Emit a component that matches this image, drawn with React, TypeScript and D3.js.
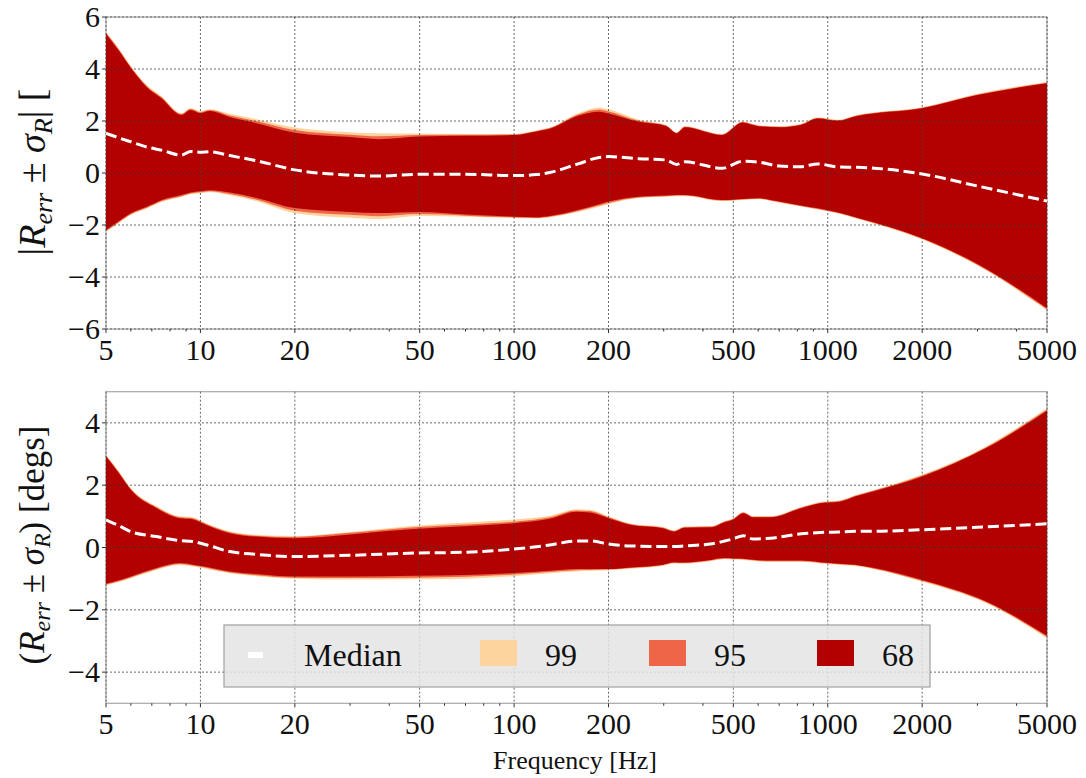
import React from "react";
import * as d3 from "d3";

// ---------- data (top panel: magnitude) ----------
const freqMag = [5, 5.5, 6, 6.75, 7.5, 8.7, 9.3, 10, 10.7, 12.4, 15, 20, 30, 37, 50, 70, 100, 118, 130, 160, 187, 200, 250, 305, 330, 350, 460, 535, 600, 700, 820, 930, 1080, 1240, 2000, 3000, 5000];
const magUpper68 = [5.35, 4.7, 4.04, 3.3, 2.88, 2.23, 2.42, 2.3, 2.38, 2.15, 1.92, 1.55, 1.38, 1.3, 1.4, 1.43, 1.46, 1.6, 1.7, 2.2, 2.36, 2.29, 1.97, 1.81, 1.53, 1.76, 1.46, 1.94, 1.8, 1.76, 1.85, 2.1, 2.01, 2.19, 2.49, 3.0, 3.45];
const magUpper95 = [5.39, 4.74, 4.08, 3.34, 2.92, 2.27, 2.46, 2.34, 2.42, 2.21, 2.0, 1.65, 1.47, 1.41, 1.46, 1.47, 1.48, 1.62, 1.73, 2.25, 2.44, 2.37, 2.01, 1.83, 1.55, 1.78, 1.48, 1.96, 1.82, 1.78, 1.87, 2.12, 2.03, 2.21, 2.51, 3.02, 3.47];
const magUpper99 = [5.42, 4.78, 4.12, 3.38, 2.96, 2.3, 2.5, 2.38, 2.45, 2.28, 2.08, 1.75, 1.57, 1.53, 1.52, 1.5, 1.5, 1.64, 1.75, 2.3, 2.52, 2.45, 2.05, 1.85, 1.56, 1.8, 1.5, 1.98, 1.84, 1.8, 1.89, 2.14, 2.05, 2.23, 2.53, 3.05, 3.5];
const magLower68 = [-2.19, -1.85, -1.55, -1.3, -1.05, -0.85, -0.75, -0.7, -0.66, -0.75, -0.95, -1.35, -1.5, -1.54, -1.5, -1.6, -1.68, -1.7, -1.65, -1.42, -1.2, -1.1, -0.91, -0.87, -0.85, -0.85, -1.04, -1.0, -0.97, -1.1, -1.25, -1.36, -1.52, -1.72, -2.51, -3.5, -5.2];
const magLower95 = [-2.23, -1.89, -1.59, -1.34, -1.09, -0.89, -0.79, -0.74, -0.7, -0.81, -1.02, -1.45, -1.61, -1.66, -1.58, -1.64, -1.71, -1.73, -1.68, -1.46, -1.25, -1.15, -0.94, -0.89, -0.87, -0.87, -1.06, -1.02, -0.99, -1.12, -1.27, -1.38, -1.54, -1.74, -2.53, -3.53, -5.24];
const magLower99 = [-2.26, -1.92, -1.62, -1.37, -1.12, -0.92, -0.82, -0.78, -0.74, -0.86, -1.08, -1.55, -1.72, -1.77, -1.65, -1.68, -1.73, -1.75, -1.7, -1.5, -1.3, -1.2, -0.96, -0.91, -0.89, -0.89, -1.08, -1.04, -1.01, -1.14, -1.29, -1.4, -1.56, -1.76, -2.56, -3.56, -5.28];
const magMedian = [1.53, 1.35, 1.2, 1.0, 0.88, 0.69, 0.83, 0.8, 0.82, 0.67, 0.48, 0.12, -0.08, -0.12, -0.05, -0.05, -0.1, -0.06, 0.02, 0.35, 0.6, 0.63, 0.55, 0.5, 0.33, 0.43, 0.18, 0.45, 0.42, 0.27, 0.24, 0.35, 0.23, 0.22, -0.04, -0.5, -1.08];

// ---------- data (bottom panel: phase) ----------
const freqPhase = [5, 5.5, 6, 7.25, 8.6, 9.45, 10.4, 12.4, 15, 20, 30, 48, 70, 100, 130, 158, 175, 200, 235, 298, 324, 348, 428, 466, 500, 538, 578, 657, 823, 945, 1090, 1222, 1395, 2000, 3200, 5000];
const phaseUpper68 = [2.92, 2.38, 1.85, 1.26, 0.94, 0.91, 0.73, 0.46, 0.35, 0.3, 0.42, 0.59, 0.68, 0.78, 0.92, 1.15, 1.12, 0.94, 0.73, 0.62, 0.51, 0.63, 0.65, 0.8, 0.9, 1.1, 0.97, 0.97, 1.26, 1.42, 1.47, 1.64, 1.8, 2.28, 3.19, 4.39];
const phaseUpper95 = [2.95, 2.41, 1.88, 1.29, 0.97, 0.94, 0.76, 0.49, 0.38, 0.34, 0.47, 0.65, 0.74, 0.83, 0.97, 1.19, 1.17, 0.97, 0.75, 0.64, 0.53, 0.65, 0.67, 0.82, 0.92, 1.12, 0.99, 0.99, 1.28, 1.44, 1.49, 1.66, 1.82, 2.31, 3.22, 4.43];
const phaseUpper99 = [2.98, 2.44, 1.91, 1.32, 1.0, 0.97, 0.79, 0.52, 0.41, 0.37, 0.5, 0.7, 0.8, 0.9, 1.02, 1.23, 1.21, 1.0, 0.77, 0.66, 0.55, 0.67, 0.69, 0.84, 0.94, 1.14, 1.01, 1.01, 1.3, 1.46, 1.51, 1.68, 1.84, 2.34, 3.25, 4.47];
const phaseLower68 = [-1.16, -1.05, -0.93, -0.66, -0.5, -0.55, -0.62, -0.77, -0.85, -0.93, -0.93, -0.91, -0.88, -0.82, -0.75, -0.69, -0.69, -0.69, -0.64, -0.55, -0.47, -0.48, -0.39, -0.34, -0.35, -0.36, -0.39, -0.42, -0.42, -0.47, -0.52, -0.55, -0.65, -1.04, -1.73, -2.83];
const phaseLower95 = [-1.19, -1.08, -0.96, -0.69, -0.53, -0.58, -0.65, -0.8, -0.89, -0.97, -0.98, -0.97, -0.94, -0.87, -0.79, -0.73, -0.72, -0.71, -0.66, -0.57, -0.49, -0.5, -0.41, -0.36, -0.37, -0.38, -0.41, -0.44, -0.44, -0.49, -0.54, -0.57, -0.67, -1.07, -1.76, -2.87];
const phaseLower99 = [-1.22, -1.11, -0.99, -0.72, -0.56, -0.61, -0.68, -0.83, -0.92, -1.0, -1.03, -1.02, -1.0, -0.92, -0.83, -0.77, -0.75, -0.73, -0.68, -0.59, -0.51, -0.52, -0.43, -0.38, -0.39, -0.4, -0.43, -0.46, -0.46, -0.51, -0.56, -0.59, -0.69, -1.1, -1.79, -2.91];
const phaseMedian = [0.89, 0.7, 0.51, 0.35, 0.22, 0.19, 0.09, -0.13, -0.22, -0.29, -0.25, -0.18, -0.15, -0.05, 0.08, 0.21, 0.21, 0.11, 0.05, 0.03, 0.03, 0.05, 0.12, 0.2, 0.28, 0.38, 0.27, 0.3, 0.44, 0.48, 0.5, 0.52, 0.52, 0.57, 0.66, 0.76];

// ---------- ticks / labels ----------
const xMajorTicks = [5, 10, 20, 50, 100, 200, 500, 1000, 2000, 5000];
const xMinorTicks = [6, 7, 8, 9, 30, 40, 60, 70, 80, 90, 300, 400, 600, 700, 800, 900, 3000, 4000];
const magYTicks = [-6, -4, -2, 0, 2, 4, 6];
const phaseYTicks = [-4, -2, 0, 2, 4];
const legendLabels = ["Median", "99", "95", "68"];

const COL99 = "#fdd49e";
const COL95 = "#ef6548";
const COL68 = "#b30000";
const FONT = "'Liberation Serif', 'DejaVu Serif', serif";

const X0 = 106;
const X1 = 1047;

function fmt(v: number) {
  return v < 0 ? "\u2212" + Math.abs(v) : String(v);
}

type PanelProps = {
  freqs: number[];
  up68: number[]; up95: number[]; up99: number[];
  lo68: number[]; lo95: number[]; lo99: number[];
  median: number[];
  yDomain: [number, number];
  yTop: number; yBottom: number;
  yTicks: number[];
};

function Panel(p: PanelProps) {
  const x = d3.scaleLog().domain([5, 5000]).range([X0, X1]);
  const y = d3.scaleLinear().domain(p.yDomain).range([p.yBottom, p.yTop]);
  const idx = p.freqs.map((_, i) => i);
  const band = (up: number[], lo: number[]) =>
    d3.area<number>()
      .x((i) => x(p.freqs[i]))
      .y0((i) => y(lo[i]))
      .y1((i) => y(up[i]))
      .curve(d3.curveMonotoneX)(idx) || "";
  const medLine = d3.line<number>()
    .x((i) => x(p.freqs[i]))
    .y((i) => y(p.median[i]))
    .curve(d3.curveMonotoneX)(idx) || "";
  const gridStyle = { stroke: "#3a3a3a", strokeWidth: 1, strokeDasharray: "2,2", opacity: 0.75 };
  return (
    <g>
      <rect x={X0} y={p.yTop} width={X1 - X0} height={p.yBottom - p.yTop} fill="white" stroke="#a8a8a8" strokeWidth={1.2} />
      <path d={band(p.up99, p.lo99)} fill={COL99} />
      <path d={band(p.up95, p.lo95)} fill={COL95} />
      <path d={band(p.up68, p.lo68)} fill={COL68} />
      {xMajorTicks.map((t) => (
        <line key={"gx" + t} x1={x(t)} x2={x(t)} y1={p.yTop} y2={p.yBottom} style={gridStyle} />
      ))}
      {p.yTicks.map((t) => (
        <line key={"gy" + t} x1={X0} x2={X1} y1={y(t)} y2={y(t)} style={gridStyle} />
      ))}
      <path d={medLine} fill="none" stroke="white" strokeWidth={3} strokeDasharray="11.1,4.8" />
      {xMajorTicks.map((t) => (
        <g key={"xt" + t}>
          <line x1={x(t)} x2={x(t)} y1={p.yBottom} y2={p.yBottom + 4} stroke="#333" strokeWidth={1} />
          <text x={x(t)} y={p.yBottom + 31} textAnchor="middle" fontSize={30} fontFamily={FONT} fill="#111">{t}</text>
        </g>
      ))}
      {xMinorTicks.map((t) => (
        <line key={"xm" + t} x1={x(t)} x2={x(t)} y1={p.yBottom} y2={p.yBottom + 2.5} stroke="#333" strokeWidth={1} />
      ))}
      {p.yTicks.map((t) => (
        <g key={"yt" + t}>
          <line x1={X0 - 4} x2={X0} y1={y(t)} y2={y(t)} stroke="#333" strokeWidth={1} />
          <text x={X0 - 6} y={y(t) + 10} textAnchor="end" fontSize={30} fontFamily={FONT} fill="#111">{fmt(t)}</text>
        </g>
      ))}
    </g>
  );
}

export default function App() {
  return (
    <svg width={1086} height={778} style={{ position: "absolute", left: 0, top: 0, background: "white" }}>
      <Panel freqs={freqMag} up68={magUpper68} up95={magUpper95} up99={magUpper99}
        lo68={magLower68} lo95={magLower95} lo99={magLower99} median={magMedian}
        yDomain={[-6, 6]} yTop={17} yBottom={329} yTicks={magYTicks} />
      <Panel freqs={freqPhase} up68={phaseUpper68} up95={phaseUpper95} up99={phaseUpper99}
        lo68={phaseLower68} lo95={phaseLower95} lo99={phaseLower99} median={phaseMedian}
        yDomain={[-5, 5]} yTop={391.7} yBottom={703.3} yTicks={phaseYTicks} />

      <text transform="translate(45,172) rotate(-90)" textAnchor="middle" fontSize={38} fontFamily={FONT} fill="#111">
        |<tspan fontStyle="italic">R</tspan><tspan fontStyle="italic" fontSize={26} dy={7}>err</tspan><tspan dy={-7}> ± </tspan><tspan fontStyle="italic">σ</tspan><tspan fontStyle="italic" fontSize={26} dy={7}>R</tspan><tspan dy={-7}>| [</tspan>
      </text>
      <text transform="translate(44,545) rotate(-90)" textAnchor="middle" fontSize={35} fontFamily={FONT} fill="#111">
        (<tspan fontStyle="italic">R</tspan><tspan fontStyle="italic" fontSize={24} dy={6}>err</tspan><tspan dy={-6}> ± </tspan><tspan fontStyle="italic">σ</tspan><tspan fontStyle="italic" fontSize={24} dy={6}>R</tspan><tspan dy={-6}>) [degs]</tspan>
      </text>
      <text x={575} y={769} textAnchor="middle" fontSize={26} fontFamily={FONT} fill="#111">Frequency [Hz]</text>

      <g>
        <rect x={224} y={625} width={706} height={62} fill="#e4e4e4" fillOpacity={0.85} stroke="#a0a0a0" strokeWidth={1.2} />
        <line x1={248} x2={263} y1={655} y2={655} stroke="white" strokeWidth={6} />
        <text x={304} y={666} fontSize={32} fontFamily={FONT} fill="#111">{legendLabels[0]}</text>
        <rect x={480} y={640} width={37} height={26} fill={COL99} />
        <text x={545} y={666} fontSize={32} fontFamily={FONT} fill="#111">{legendLabels[1]}</text>
        <rect x={649} y={640} width={37} height={26} fill={COL95} />
        <text x={714} y={666} fontSize={32} fontFamily={FONT} fill="#111">{legendLabels[2]}</text>
        <rect x={817} y={640} width={37} height={26} fill={COL68} />
        <text x={882} y={666} fontSize={32} fontFamily={FONT} fill="#111">{legendLabels[3]}</text>
      </g>
    </svg>
  );
}
